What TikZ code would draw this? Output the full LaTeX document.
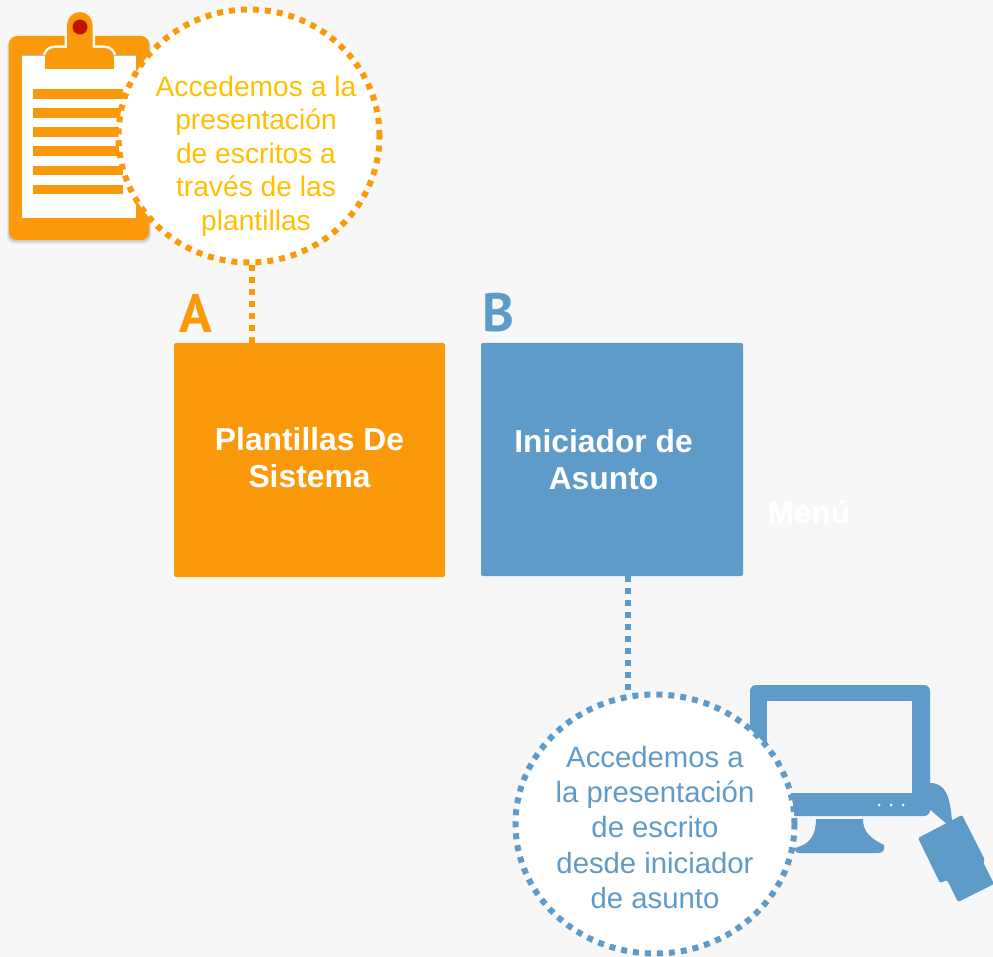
\documentclass[tikz,border=0pt]{standalone}
\usepackage{fontspec}
\setmainfont{Liberation Sans}
\newfontfamily\letterfont{PT Sans}
\usetikzlibrary{shapes.geometric}
\definecolor{pagebg}{HTML}{F7F7F7}
\definecolor{orangeA}{HTML}{FA9A0B}
\definecolor{blueB}{HTML}{5F9BC8}
\definecolor{yellowT}{HTML}{FFC000}
\definecolor{clipred}{HTML}{C41200}
\tikzset{
  bubble/.style={ellipse,fill=white,draw=#1,line width=6pt,dash pattern=on 6pt off 6pt,inner sep=0pt},
  bubbletext/.style={text=#1,align=center,inner sep=0pt},
  mainbox/.style={fill=#1,rounded corners=2pt,inner sep=0pt},
  boxtext/.style={text=white,align=center,inner sep=0pt,font=\bfseries\fontsize{31.8}{37.5}\selectfont},
  linkline/.style={draw=#1,line width=6pt,dash pattern=on 6pt off 6pt},
  bigletter/.style={text=#1,inner sep=0pt,font=\letterfont\bfseries\fontsize{54}{54}\selectfont},
}
\newcommand{\clipoutline}{(45,69) -- (45,58) .. controls (45,52) and (49,48) .. (55,48) -- (67,48) -- (67,25) .. controls (67,18) and (73,12) .. (80,12) .. controls (87,12) and (92.5,18) .. (92.5,25) -- (92.5,48) -- (104,48) .. controls (110,48) and (114,52) .. (114,58) -- (114,69) -- cycle}
\begin{document}
\begin{tikzpicture}[x=1pt,y=-1pt]
\useasboundingbox[fill=pagebg] (0,0) rectangle (993,957);
% clipboard icon
\foreach \sh in {1,2,3,4}
  \fill[black,opacity=.05,rounded corners=8pt] (9-\sh/2,38) rectangle (149+\sh/2,240+\sh);
\fill[orangeA,rounded corners=8pt] (9,36) rectangle (149,240);
\draw[pagebg,line width=5pt,fill=pagebg] \clipoutline;
\fill[white] (22,55) rectangle (135.5,218);
\fill[black!25] (22,55) rectangle (135.5,56.5);
\fill[orangeA] \clipoutline;
\fill[clipred] (80,27) circle[radius=7.5];
\foreach \ly in {89.5,108.5,127.5,146.5,166,185}
  \fill[orangeA] (32.5,\ly) rectangle (123,\ly+9.5);
% monitor icon
\fill[blueB,rounded corners=6pt] (750,685) rectangle (930,816);
\fill[pagebg] (767,701) rectangle (912,793);
\foreach \dx in {879,891,903}
  \fill[white] (\dx,805) circle[radius=1.5];
\fill[blueB] (816,819) -- (863,819) .. controls (863,832) and (870,838) .. (884,845) .. controls (885,850) and (883,853) .. (878,853) -- (800,853) .. controls (796,853) and (795,851) .. (794,848) .. controls (810,845) and (816,835) .. (816,819) -- cycle;
\fill[blueB] (930,783) .. controls (945,783) and (950,795) .. (952,821) -- (947,824) -- (928,808) -- cycle;
\fill[blueB,rounded corners=1.5pt] (918,838) -- (962,815) -- (985,860) -- (983,862) -- (994,884) -- (958,902) -- (947,880) -- (940,883) -- cycle;
% boxes
\node[mainbox=orangeA,minimum width=271pt,minimum height=234pt] (a) at (309.5,460) {};
\node[mainbox=blueB,minimum width=262pt,minimum height=233pt] (b) at (612,459.5) {};
\node[boxtext] (at) at (309.5,457.5) {Plantillas De\\Sistema};
\node[boxtext] (bt) at (603.5,459.5) {Iniciador de\\Asunto};
\node[bigletter=orangeA] (la) at (196,313) {A};
\node[bigletter=blueB] (lb) at (498,313) {B};
\node[text=white,inner sep=0pt,font=\bfseries\fontsize{31.5}{36}\selectfont] (menu) at (809,512) {Menú};
% bubbles
\node[bubble=orangeA,minimum width=261pt,minimum height=253pt] (c1) at (249,136) {};
\node[bubbletext=yellowT,font=\fontsize{28.2}{33.6}\selectfont] (t1) at (256,156) {Accedemos a la\\presentación\\de escritos a\\través de las\\plantillas};
\node[bubble=blueB,minimum width=279pt,minimum height=259pt] (c2) at (655,824) {};
\node[bubbletext=blueB,font=\fontsize{29.3}{35.3}\selectfont] (t2) at (655,827.5) {Accedemos a\\la presentación\\de escrito\\desde iniciador\\de asunto};
% connectors
\path[linkline=orangeA] ([xshift=3pt]c1.south) -- ([xshift=3pt]c1.south |- a.north);
\path[linkline=blueB] ([xshift=16pt]b.south) -- ([xshift=16pt,yshift=-3pt]b.south |- c2.north);
\end{tikzpicture}
\end{document}
